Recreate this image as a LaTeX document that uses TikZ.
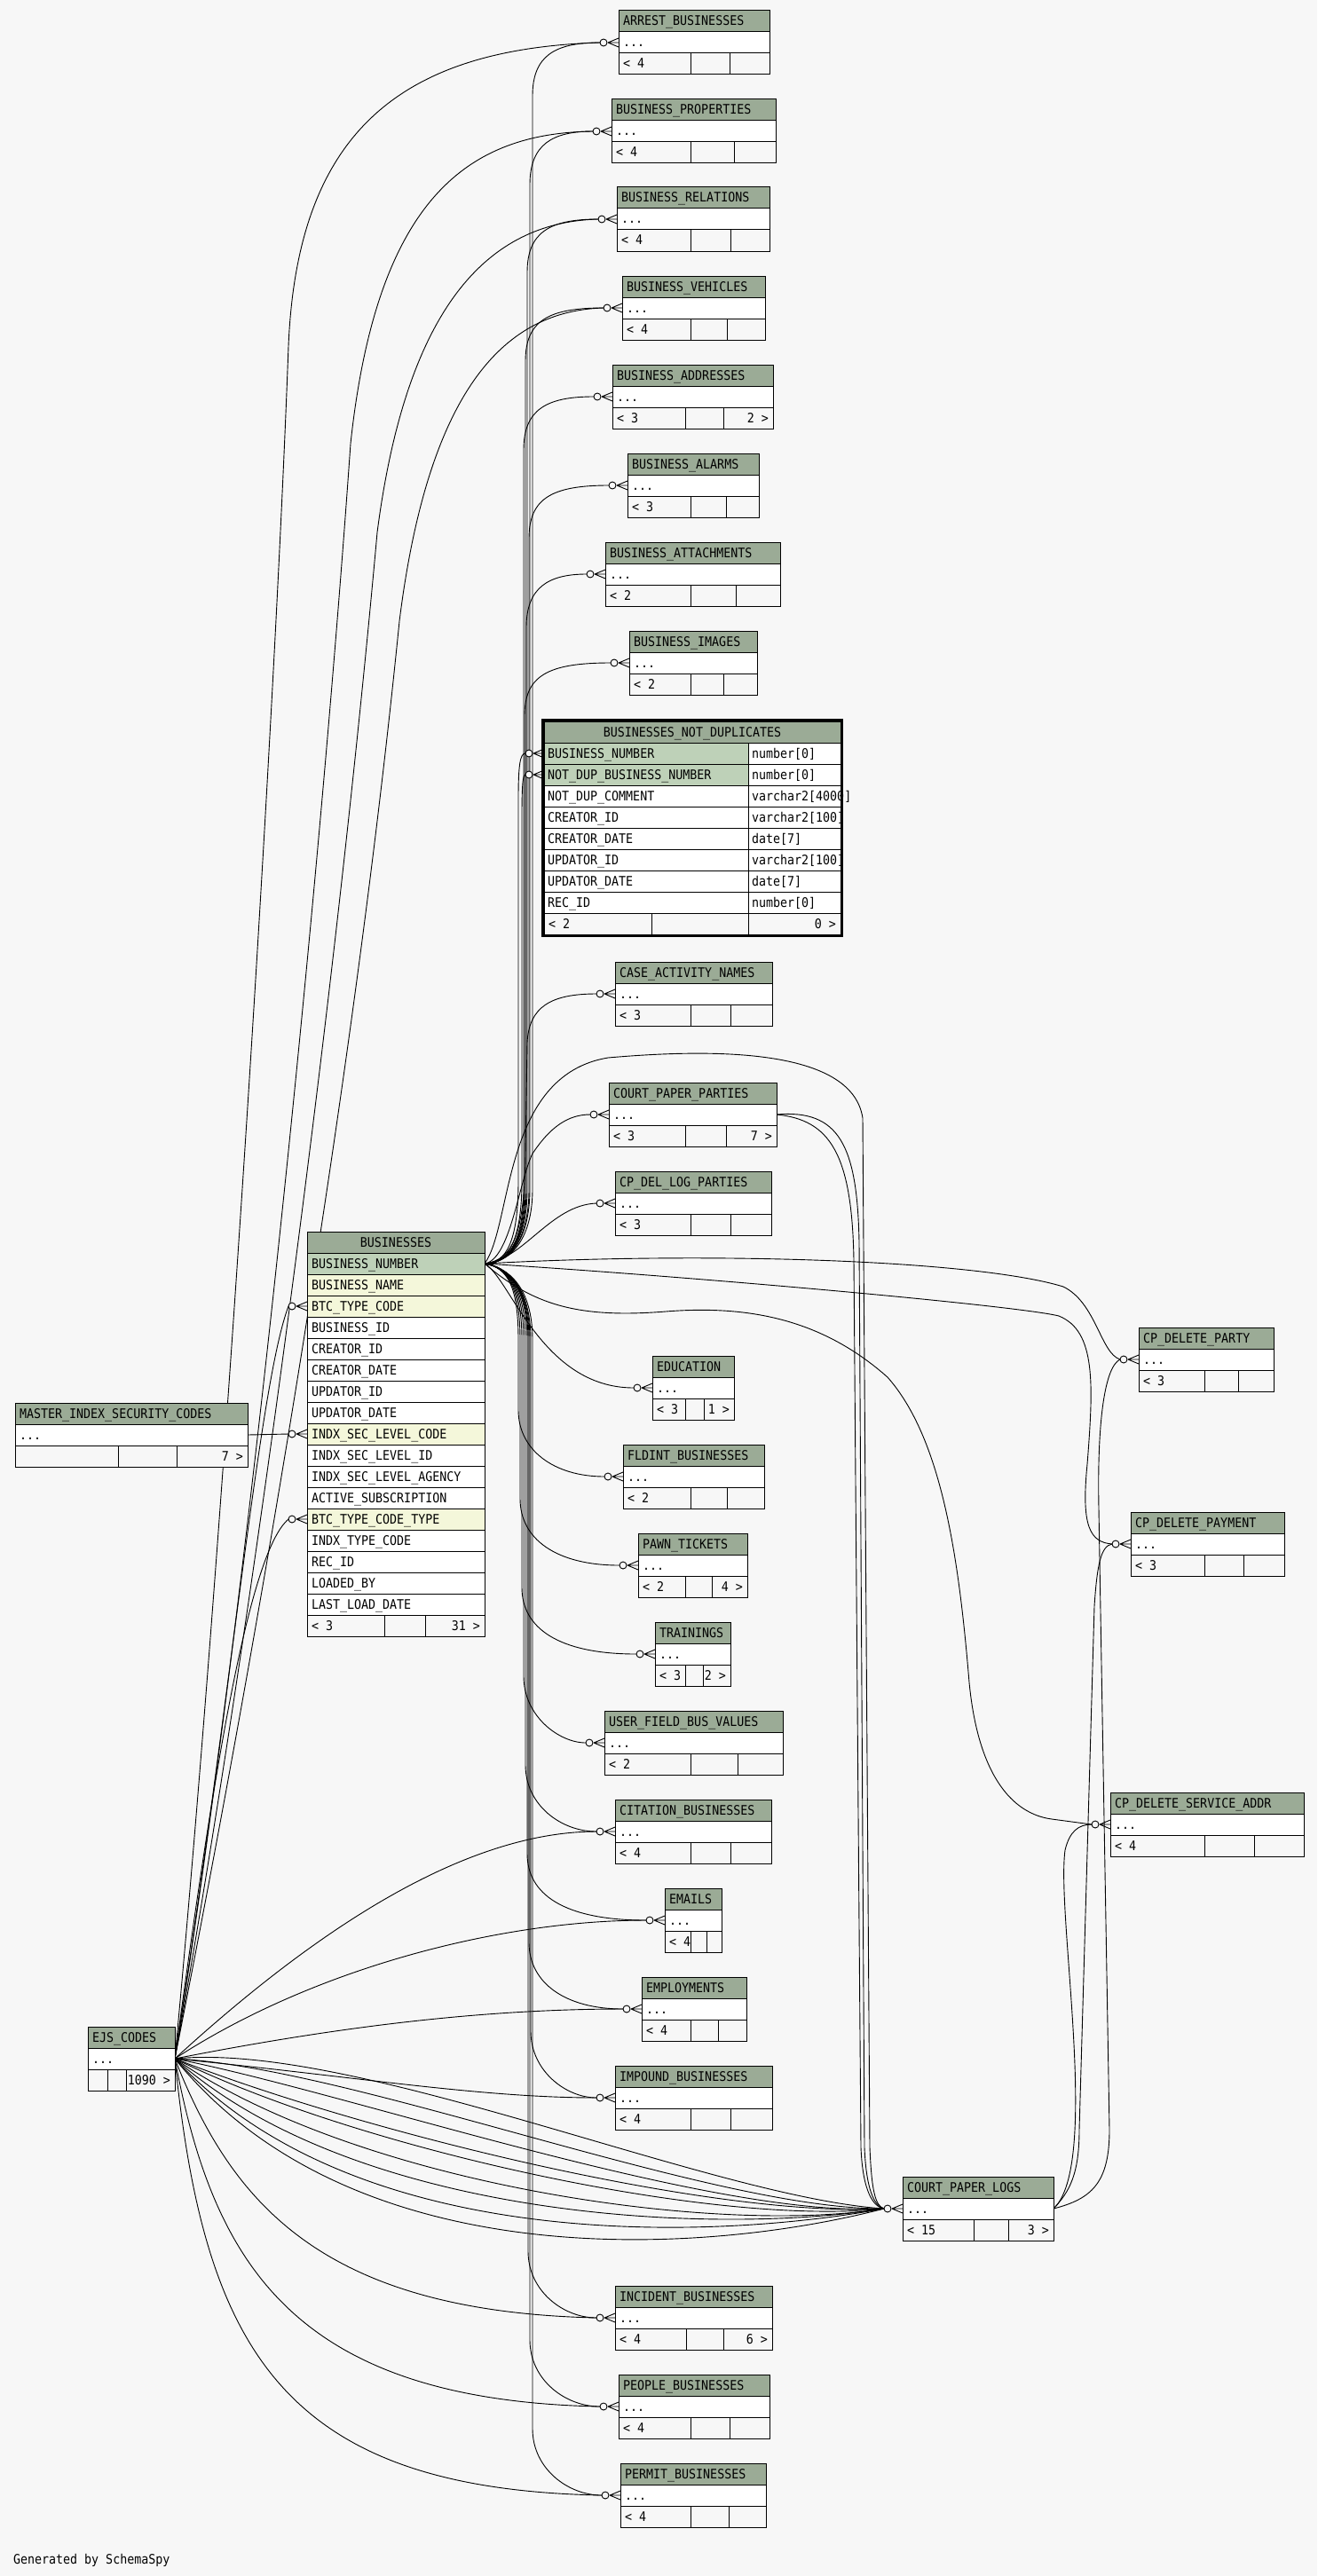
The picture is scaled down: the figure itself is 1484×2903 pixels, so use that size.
\documentclass[tikz,border=0pt]{standalone}
\usepackage{fontspec}
\newfontfamily\tfont[FakeStretch=0.9]{DejaVu Sans Mono}
\definecolor{bgc}{HTML}{F7F7F7}
\definecolor{hdrc}{HTML}{9BAB96}
\definecolor{pkc}{HTML}{BED1B8}
\definecolor{fkc}{HTML}{F4F7DA}
\pgfdeclarelayer{back}
\pgfdeclarelayer{bg}
\pgfsetlayers{back,bg,main}
\tikzset{
  cellbox/.style={draw=black, line width=1pt, inner sep=0pt, outer sep=0pt, minimum height=24pt, rectangle},
  lbl/.style={font=\tfont\fontsize{14.8}{16}\selectfont, inner sep=0pt, outer sep=0pt, text=black},
  conn/.style={draw=black, line width=0.9pt},
}
% small table: id, xl, xr, ytop, div1, div2, title, left footer, right footer
\newcommand\stab[9]{%
  \pgfmathsetmacro\tw{#3-#2}%
  \pgfmathsetmacro\wa{#5-#2}%
  \pgfmathsetmacro\wb{#6-#5}%
  \pgfmathsetmacro\wc{#3-#6}%
  \node[cellbox, fill=hdrc, minimum width=\tw pt, anchor=north west] (#1-h) at (#2,#4) {};
  \node[lbl, anchor=base west] (#1-ht) at (#2+5,#4+17) {#7};
  \node[cellbox, fill=white, minimum width=\tw pt, anchor=north west] (#1-r) at (#2,#4+24) {};
  \node[lbl, anchor=base west] (#1-rt) at (#2+5,#4+41) {...};
  \node[cellbox, fill=bgc, minimum width=\wa pt, anchor=north west] (#1-fa) at (#2,#4+48) {};
  \node[cellbox, fill=bgc, minimum width=\wb pt, anchor=north west] (#1-fb) at (#5,#4+48) {};
  \node[cellbox, fill=bgc, minimum width=\wc pt, anchor=north west] (#1-fc) at (#6,#4+48) {};
  \node[lbl, anchor=base west] (#1-fat) at (#2+5,#4+65) {#8};
  \node[lbl, anchor=base east] (#1-fct) at (#3-5,#4+65) {#9};
  \coordinate (#1-c) at (#2-21,#4+36);
}
\newcommand\busrow[3]{%
  \node[cellbox, fill=#3, minimum width=200pt, anchor=north west] (bus-#1) at (346,{1412+(#1-1)*24}) {};
  \node[lbl, anchor=base west] (bus-#1-t) at (351,{1429+(#1-1)*24}) {#2};
  \coordinate (bus-#1-c) at (325,{1424+(#1-1)*24});
}
\newcommand\bndrow[4]{%
  \node[cellbox, fill=#3, minimum width=230pt, anchor=north west] (bnd-#1) at (613,{837+(#1-1)*24}) {};
  \node[cellbox, fill=white, minimum width=104pt, anchor=north west] (bnd-#1-ty) at (843,{837+(#1-1)*24}) {};
  \node[lbl, anchor=base west] (bnd-#1-t) at (617,{854+(#1-1)*24}) {#2};
  \node[lbl, anchor=base west] (bnd-#1-tt) at (847,{854+(#1-1)*24}) {#4};
  \coordinate (bnd-#1-c) at (592,{849+(#1-1)*24});
}
\newcommand\crow[1]{%
  \draw[line width=0.9pt, fill=bgc] ([xshift=-17pt]#1.west) circle[radius=4pt];
  \draw[line width=0.9pt] ([xshift=-12pt]#1.west) -- ([yshift=5pt]#1.west)
        ([xshift=-12pt]#1.west) -- (#1.west)
        ([xshift=-12pt]#1.west) -- ([yshift=-5pt]#1.west);
}
% BUSINESSES -> upper child: id, vx, yc
\newcommand\bup[3]{%
  \draw[conn] (bus-1.east) .. controls (572,1424) and (#2,1400) .. (#2,1340) -- (#2,#3+60) .. controls (#2,#3+15) and (#2+25,#3) .. (#1-c);
}
% BUSINESSES -> lower child: id, vx, yc
\newcommand\bdn[3]{%
  \draw[conn] (bus-1.east) .. controls (572,1428) and (#2,1450) .. (#2,1510) -- (#2,#3-75) .. controls (#2,#3-30) and (#2+40,#3) .. (#1-c);
}
\begin{document}
\begin{tikzpicture}[x=1pt,y=-1pt]
\useasboundingbox (0,0) rectangle (1484,2903);
\begin{pgfonlayer}{back}
  \fill[bgc] (0,0) rectangle (1484,2903);
\end{pgfonlayer}

% ---------------- tables ----------------
\stab{arrest}{697}{867}{12}{778}{822}{ARREST\_BUSINESSES}{< 4}{}
\stab{bprop}{689}{874}{112}{778}{827}{BUSINESS\_PROPERTIES}{< 4}{}
\stab{brel}{695}{867}{211}{778}{823}{BUSINESS\_RELATIONS}{< 4}{}
\stab{bveh}{701}{862}{311}{778}{819}{BUSINESS\_VEHICLES}{< 4}{}
\stab{baddr}{690}{871}{411}{772}{815}{BUSINESS\_ADDRESSES}{< 3}{2 >}
\stab{balarm}{707}{855}{511}{778}{818}{BUSINESS\_ALARMS}{< 3}{}
\stab{batt}{682}{879}{611}{778}{829}{BUSINESS\_ATTACHMENTS}{< 2}{}
\stab{bimg}{709}{853}{711}{778}{815}{BUSINESS\_IMAGES}{< 2}{}
\stab{case}{693}{870}{1084}{778}{823}{CASE\_ACTIVITY\_NAMES}{< 3}{}
\stab{cpp}{686}{875}{1220}{772}{818}{COURT\_PAPER\_PARTIES}{< 3}{7 >}
\stab{cpdlp}{693}{869}{1320}{778}{823}{CP\_DEL\_LOG\_PARTIES}{< 3}{}
\stab{edu}{735}{827}{1528}{772}{793}{EDUCATION}{< 3}{1 >}
\stab{fld}{702}{861}{1628}{778}{819}{FLDINT\_BUSINESSES}{< 2}{}
\stab{pawn}{719}{842}{1728}{772}{802}{PAWN\_TICKETS}{< 2}{4 >}
\stab{train}{738}{823}{1828}{772}{792}{TRAININGS}{< 3}{2 >}
\stab{ufbv}{681}{882}{1928}{778}{831}{USER\_FIELD\_BUS\_VALUES}{< 2}{}
\stab{cit}{693}{869}{2028}{778}{823}{CITATION\_BUSINESSES}{< 4}{}
\stab{email}{749}{813}{2128}{778}{796}{EMAILS}{< 4}{}
\stab{empl}{723}{841}{2228}{778}{809}{EMPLOYMENTS}{< 4}{}
\stab{imp}{693}{870}{2328}{778}{823}{IMPOUND\_BUSINESSES}{< 4}{}
\stab{inc}{693}{870}{2576}{773}{815}{INCIDENT\_BUSINESSES}{< 4}{6 >}
\stab{people}{697}{867}{2676}{778}{822}{PEOPLE\_BUSINESSES}{< 4}{}
\stab{permit}{699}{863}{2776}{778}{821}{PERMIT\_BUSINESSES}{< 4}{}
\stab{mis}{17}{279}{1581}{133}{199}{MASTER\_INDEX\_SECURITY\_CODES}{}{7 >}
\stab{ejs}{99}{197}{2284}{121}{142}{EJS\_CODES}{}{1090 >}
\stab{cpl}{1017}{1187}{2453}{1097}{1136}{COURT\_PAPER\_LOGS}{< 15}{3 >}
\stab{cpdp}{1283}{1435}{1496}{1357}{1395}{CP\_DELETE\_PARTY}{< 3}{}
\stab{cpdpay}{1274}{1447}{1704}{1357}{1401}{CP\_DELETE\_PAYMENT}{< 3}{}
\stab{cpdsa}{1251}{1469}{2020}{1357}{1413}{CP\_DELETE\_SERVICE\_ADDR}{< 4}{}

% BUSINESSES
\node[cellbox, fill=hdrc, minimum width=200pt, anchor=north west] (bus-h) at (346,1388) {};
\node[lbl, anchor=base] (bus-ht) at (446,1405) {BUSINESSES};
\busrow{1}{BUSINESS\_NUMBER}{pkc}
\busrow{2}{BUSINESS\_NAME}{fkc}
\busrow{3}{BTC\_TYPE\_CODE}{fkc}
\busrow{4}{BUSINESS\_ID}{white}
\busrow{5}{CREATOR\_ID}{white}
\busrow{6}{CREATOR\_DATE}{white}
\busrow{7}{UPDATOR\_ID}{white}
\busrow{8}{UPDATOR\_DATE}{white}
\busrow{9}{INDX\_SEC\_LEVEL\_CODE}{fkc}
\busrow{10}{INDX\_SEC\_LEVEL\_ID}{white}
\busrow{11}{INDX\_SEC\_LEVEL\_AGENCY}{white}
\busrow{12}{ACTIVE\_SUBSCRIPTION}{white}
\busrow{13}{BTC\_TYPE\_CODE\_TYPE}{fkc}
\busrow{14}{INDX\_TYPE\_CODE}{white}
\busrow{15}{REC\_ID}{white}
\busrow{16}{LOADED\_BY}{white}
\busrow{17}{LAST\_LOAD\_DATE}{white}
\node[cellbox, fill=bgc, minimum width=87pt, anchor=north west] (bus-fa) at (346,1820) {};
\node[cellbox, fill=bgc, minimum width=46pt, anchor=north west] (bus-fb) at (433,1820) {};
\node[cellbox, fill=bgc, minimum width=67pt, anchor=north west] (bus-fc) at (479,1820) {};
\node[lbl, anchor=base west] (bus-fat) at (351,1837) {< 3};
\node[lbl, anchor=base east] (bus-fct) at (541,1837) {31 >};

% BUSINESSES_NOT_DUPLICATES
\node[cellbox, fill=hdrc, minimum width=334pt, anchor=north west] (bnd-h) at (613,813) {};
\node[lbl, anchor=base] (bnd-ht) at (780,830) {BUSINESSES\_NOT\_DUPLICATES};
\bndrow{1}{BUSINESS\_NUMBER}{pkc}{number[0]}
\bndrow{2}{NOT\_DUP\_BUSINESS\_NUMBER}{pkc}{number[0]}
\bndrow{3}{NOT\_DUP\_COMMENT}{white}{varchar2[4000]}
\bndrow{4}{CREATOR\_ID}{white}{varchar2[100]}
\bndrow{5}{CREATOR\_DATE}{white}{date[7]}
\bndrow{6}{UPDATOR\_ID}{white}{varchar2[100]}
\bndrow{7}{UPDATOR\_DATE}{white}{date[7]}
\bndrow{8}{REC\_ID}{white}{number[0]}
\node[cellbox, fill=bgc, minimum width=121pt, anchor=north west] (bnd-fa) at (613,1029) {};
\node[cellbox, fill=bgc, minimum width=109pt, anchor=north west] (bnd-fb) at (734,1029) {};
\node[cellbox, fill=bgc, minimum width=104pt, anchor=north west] (bnd-fc) at (843,1029) {};
\node[lbl, anchor=base west] (bnd-fat) at (618,1046) {< 2};
\node[lbl, anchor=base east] (bnd-fct) at (942,1046) {0 >};
\draw[line width=3pt] (bnd-h.north west) ++(-1.5,-1.5) rectangle ([shift={(1.5pt,-1.5pt)}]bnd-fc.south east);

\node[lbl, anchor=base west] (gen) at (15,2889) {Generated by SchemaSpy};

% ---------------- connectors ----------------
\begin{pgfonlayer}{bg}
% BUSINESSES.BUSINESS_NUMBER -> upper column
\bup{arrest}{600}{48}
\bup{bprop}{597}{148}
\bup{brel}{594}{247}
\bup{bveh}{592}{347}
\bup{baddr}{590}{447}
\bup{balarm}{596}{547}
\bup{batt}{593}{647}
\bup{bimg}{591}{747}
\draw[conn] (bus-1.east) .. controls (570,1424) and (584,1400) .. (584,1330) -- (584,900) .. controls (584,862) and (586,849) .. (bnd-1-c);
\draw[conn] (bus-1.east) .. controls (572,1424) and (588,1400) .. (588,1330) -- (588,920) .. controls (588,885) and (589,873) .. (bnd-2-c);
\draw[conn] (bus-1.east) .. controls (578,1420) and (591,1390) .. (592,1300) -- (594,1175) .. controls (596,1135) and (620,1120) .. (case-c);
\draw[conn] (bus-1.east) .. controls (575,1420) and (585,1330) .. (600,1300) .. controls (620,1270) and (640,1256) .. (cpp-c);
\draw[conn] (bus-1.east) .. controls (590,1420) and (620,1358) .. (cpdlp-c);
\draw[conn] (bus-1.east) .. controls (575,1440) and (610,1564) .. (edu-c);
% BUSINESSES -> lower column
\bdn{fld}{584}{1664}
\bdn{pawn}{586}{1764}
\bdn{train}{588}{1864}
\bdn{ufbv}{590}{1964}
\bdn{cit}{592}{2064}
\bdn{email}{594}{2164}
\bdn{empl}{596}{2264}
\bdn{imp}{598}{2364}
\bdn{inc}{595}{2612}
\bdn{people}{597}{2712}
\bdn{permit}{600}{2812}
% BUSINESSES -> COURT_PAPER_LOGS and CP_DELETE_*
\draw[conn] (bus-1.east) .. controls (578,1380) and (565,1212) .. (685,1192) .. controls (800,1182) and (960,1180) .. (972,1260) -- (980,2420) .. controls (982,2468) and (986,2486) .. (cpl-c);
\draw[conn] (bus-1.east) .. controls (800,1410) and (1100,1420) .. (1198,1450) .. controls (1235,1468) and (1240,1525) .. (cpdp-c);
\draw[conn] (bus-1.east) .. controls (800,1440) and (1150,1472) .. (1193,1483) .. controls (1235,1500) and (1232,1560) .. (1225,1650) .. controls (1218,1720) and (1228,1738) .. (cpdpay-c);
\draw[conn] (bus-1.east) .. controls (600,1470) and (650,1486) .. (750,1478) .. controls (850,1470) and (930,1490) .. (1000,1552) .. controls (1060,1620) and (1080,1750) .. (1092,1896) .. controls (1102,2000) and (1140,2044) .. (1185,2050) -- (cpdsa-c);
% COURT_PAPER_PARTIES -> COURT_PAPER_LOGS
\draw[conn] (cpp-r.east) .. controls (945,1250) and (966,1290) .. (968,1400) -- (974,2420) .. controls (976,2468) and (985,2486) .. (cpl-c);
\draw[conn] (cpp-r.east) .. controls (935,1262) and (960,1300) .. (962,1420) -- (970,2420) .. controls (972,2470) and (984,2487) .. (cpl-c);
% COURT_PAPER_LOGS -> CP_DELETE_*
\draw[conn] (cpl-r.east) .. controls (1230,2478) and (1250,2460) .. (1250,2400) -- (1238,1700) .. controls (1236,1600) and (1245,1540) .. (cpdp-c);
\draw[conn] (cpl-r.east) .. controls (1205,2470) and (1216,2450) .. (1216,2400) -- (1233,1810) .. controls (1236,1765) and (1240,1742) .. (cpdpay-c);
\draw[conn] (cpl-r.east) .. controls (1240,2440) and (1190,2160) .. (1200,2085) .. controls (1205,2064) and (1215,2056) .. (cpdsa-c);
% MASTER_INDEX_SECURITY_CODES -> BUSINESSES
\draw[conn] (mis-r.east) -- (bus-9-c);
% EJS_CODES -> BUSINESSES
\draw[conn] (ejs-r.east) .. controls (262,1900) and (292,1560) .. (bus-3-c);
\draw[conn] (ejs-r.east) .. controls (240,2000) and (280,1750) .. (bus-13-c);
% EJS_CODES -> upper tables
\draw[conn] (ejs-r.east) .. controls (255,1700) and (310,800) .. (325,390) .. controls (335,150) and (450,55) .. (arrest-c);
\draw[conn] (ejs-r.east) .. controls (280,1800) and (360,1000) .. (395,500) .. controls (425,220) and (530,150) .. (bprop-c);
\draw[conn] (ejs-r.east) .. controls (290,1800) and (380,1100) .. (425,600) .. controls (460,330) and (560,250) .. (brel-c);
\draw[conn] (ejs-r.east) .. controls (300,1800) and (400,1200) .. (450,700) .. controls (485,420) and (580,350) .. (bveh-c);
% EJS_CODES -> lower tables
\draw[conn] (ejs-r.east) .. controls (350,2180) and (520,2064) .. (cit-c);
\draw[conn] (ejs-r.east) .. controls (350,2220) and (560,2164) .. (email-c);
\draw[conn] (ejs-r.east) .. controls (400,2280) and (560,2264) .. (empl-c);
\draw[conn] (ejs-r.east) .. controls (400,2340) and (540,2364) .. (imp-c);
\draw[conn] (ejs-r.east) .. controls (260,2480) and (360,2605) .. (inc-c);
\draw[conn] (ejs-r.east) .. controls (240,2550) and (330,2705) .. (people-c);
\draw[conn] (ejs-r.east) .. controls (230,2650) and (320,2805) .. (permit-c);
% EJS_CODES -> COURT_PAPER_LOGS
\foreach \ca/\cb in {2300/2476, 2330/2490, 2360/2500, 2400/2500, 2420/2510, 2460/2520, 2500/2520, 2540/2525, 2570/2540}{
  \draw[conn] (ejs-r.east) .. controls (400,\ca) and (800,\cb) .. (cpl-c);
}
\end{pgfonlayer}

% ---------------- markers ----------------
\crow{arrest-r}\crow{bprop-r}\crow{brel-r}\crow{bveh-r}\crow{baddr-r}
\crow{balarm-r}\crow{batt-r}\crow{bimg-r}\crow{bnd-1}\crow{bnd-2}
\crow{case-r}\crow{cpp-r}\crow{cpdlp-r}\crow{edu-r}\crow{fld-r}
\crow{pawn-r}\crow{train-r}\crow{ufbv-r}\crow{cit-r}\crow{email-r}
\crow{empl-r}\crow{imp-r}\crow{inc-r}\crow{people-r}\crow{permit-r}
\crow{cpl-r}\crow{cpdp-r}\crow{cpdpay-r}\crow{cpdsa-r}
\crow{bus-3}\crow{bus-9}\crow{bus-13}
\end{tikzpicture}
\end{document}
